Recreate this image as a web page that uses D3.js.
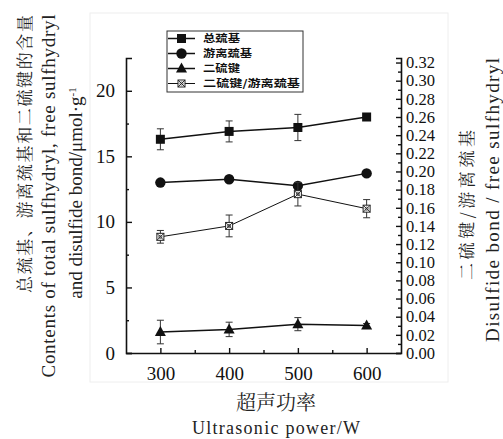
<!DOCTYPE html>
<html>
<head>
<meta charset="utf-8">
<script src="https://cdn.jsdelivr.net/npm/d3@7/dist/d3.min.js"></script>
<style>
  body { margin: 0; background: #fff; }
  svg { display: block; }
  .serif { font-family: "Liberation Serif"; }
  .song { font-family: "Noto Serif CJK SC", "Noto Sans CJK SC"; }
  .hei { font-family: "Noto Sans CJK SC"; }
</style>
</head>
<body>
<div id="container"></div>
<script>
let w = 503;
let h = 439;

// data
let powers = [300, 400, 500, 600];
let totalSH = [16.3, 16.9, 17.2, 18.0];
let totalErr = [0.8, 0.8, 1.0, 0.15];
let freeSH = [13.0, 13.25, 12.75, 13.7];
let freeErr = [0.15, 0.15, 0.15, 0.15];
let disulfide = [1.6, 1.8, 2.2, 2.1];
let disulfideErr = [0.9, 0.55, 0.5, 0.15];
let ratio = [0.128, 0.140, 0.175, 0.159];
let ratioErr = [0.007, 0.012, 0.013, 0.010];

let leftTicks = [0, 5, 10, 15, 20];
let rightTicks = d3.range(0, 0.3201, 0.02);
let legendNames = ["总巯基", "游离巯基", "二硫键", "二硫键/游离巯基"];
let legendWidths = [37, 49, 37, 97];

let plotLeft = 126, plotRight = 401, plotTop = 58, plotBottom = 353;

let viz = d3.select("#container")
  .append("svg")
  .attr("width", w)
  .attr("height", h)
  .style("background-color", "white");

// faint scan frame
viz.append("rect")
  .attr("x", 90).attr("y", 13)
  .attr("width", 358).attr("height", 369)
  .attr("fill", "none")
  .attr("stroke", "#eeeeee");

let x = d3.scaleLinear().domain([250, 650]).range([plotLeft, plotRight]);
let yL = d3.scaleLinear().domain([0, 22.5]).range([plotBottom, plotTop]);
let yR = d3.scaleLinear().domain([0, 0.325]).range([plotBottom, plotTop]);

// axes
viz.append("g")
  .attr("class", "xaxis")
  .attr("transform", `translate(0, ${plotBottom})`)
  .call(d3.axisBottom(x).tickValues(powers).tickSize(-5).tickSizeOuter(0).tickPadding(14));
viz.append("g")
  .attr("transform", `translate(0, ${plotBottom})`)
  .call(d3.axisBottom(x).tickValues([350, 450, 550]).tickSize(-3).tickFormat(""))
  .call(g => g.select(".domain").remove());

viz.append("g")
  .attr("class", "yaxis")
  .attr("transform", `translate(${plotLeft}, 0)`)
  .call(d3.axisLeft(yL).tickValues(leftTicks).tickSize(-6).tickSizeOuter(-6).tickPadding(11));
viz.append("g")
  .attr("transform", `translate(${plotLeft}, 0)`)
  .call(d3.axisLeft(yL).tickValues([2.5, 7.5, 12.5, 17.5]).tickSize(-3).tickFormat(""))
  .call(g => g.select(".domain").remove());

viz.append("g")
  .attr("class", "yaxis right")
  .attr("transform", `translate(${plotRight}, 0)`)
  .call(d3.axisRight(yR).tickValues(rightTicks).tickSize(-5).tickSizeOuter(-5).tickPadding(5)
    .tickFormat(d3.format(".2f")));
viz.append("g")
  .attr("transform", `translate(${plotRight}, 0)`)
  .call(d3.axisRight(yR).tickValues(d3.range(0.01, 0.32, 0.02)).tickSize(-3).tickFormat(""))
  .call(g => g.select(".domain").remove());

viz.selectAll("g").attr("font-family", null);
viz.selectAll(".domain").attr("stroke", "#111").attr("stroke-width", 1.6);
viz.selectAll(".tick line").attr("stroke", "#111").attr("stroke-width", 1.4);
viz.selectAll(".tick text")
  .attr("class", "serif")
  .style("font-size", "19px")
  .attr("fill", "#111");
viz.selectAll(".right .tick text").style("font-size", "16.5px");

// series
let series = [
  { vals: totalSH, err: totalErr, y: yL, shape: "square", lw: 1.5 },
  { vals: freeSH, err: freeErr, y: yL, shape: "circle", lw: 1.5 },
  { vals: disulfide, err: disulfideErr, y: yL, shape: "triangle", lw: 1.5 },
  { vals: ratio, err: ratioErr, y: yR, shape: "crossed", lw: 1 }
];

function drawMarker(g, shape, cx, cy) {
  if (shape === "square") {
    g.append("rect").attr("x", cx - 4.5).attr("y", cy - 4.5).attr("width", 9).attr("height", 9).attr("fill", "#111");
  } else if (shape === "circle") {
    g.append("circle").attr("cx", cx).attr("cy", cy).attr("r", 5.2).attr("fill", "#111");
  } else if (shape === "triangle") {
    g.append("path").attr("d", `M${cx},${cy - 6}L${cx + 5.5},${cy + 4}L${cx - 5.5},${cy + 4}Z`).attr("fill", "#111");
  } else {
    let s = 3.5;
    g.append("rect").attr("x", cx - s).attr("y", cy - s).attr("width", 2 * s).attr("height", 2 * s)
      .attr("fill", "white").attr("stroke", "#222").attr("stroke-width", 1);
    g.append("path").attr("d", `M${cx - s},${cy - s}L${cx + s},${cy + s}M${cx + s},${cy - s}L${cx - s},${cy + s}`)
      .attr("stroke", "#222").attr("stroke-width", 0.9);
    g.append("circle").attr("cx", cx).attr("cy", cy).attr("r", 1.6).attr("fill", "none").attr("stroke", "#222").attr("stroke-width", 0.7);
  }
}

series.forEach(s => {
  let pts = powers.map((p, i) => [x(p), s.y(s.vals[i])]);
  viz.append("path")
    .attr("d", d3.line()(pts))
    .attr("fill", "none")
    .attr("stroke", "#111")
    .attr("stroke-width", s.lw);
});

series.forEach(s => {
  let g = viz.append("g");
  powers.forEach((p, i) => {
    let cx = x(p);
    let y1 = s.y(s.vals[i] + s.err[i]);
    let y2 = s.y(s.vals[i] - s.err[i]);
    g.append("path")
      .attr("d", `M${cx},${y1}V${y2}M${cx - 3.5},${y1}H${cx + 3.5}M${cx - 3.5},${y2}H${cx + 3.5}`)
      .attr("stroke", "#333")
      .attr("stroke-width", 1)
      .attr("fill", "none");
    drawMarker(g, s.shape, cx, s.y(s.vals[i]));
  });
});

// legend
let legend = viz.append("g");
legend.append("rect")
  .attr("x", 167).attr("y", 31).attr("width", 136).attr("height", 61)
  .attr("fill", "white").attr("stroke", "#333").attr("stroke-width", 1);
let rowY = [38.5, 53.5, 68.5, 83.5];
legendNames.forEach((name, i) => {
  legend.append("line")
    .attr("x1", 168).attr("x2", 195).attr("y1", rowY[i]).attr("y2", rowY[i])
    .attr("stroke", "#111").attr("stroke-width", series[i].lw);
  drawMarker(legend, series[i].shape, 181.5, rowY[i]);
  legend.append("text")
    .text(name)
    .attr("class", "hei")
    .attr("x", 203).attr("y", rowY[i])
    .attr("dy", "0.38em")
    .style("font-weight", 700)
    .style("font-size", "10.2px")
    .attr("textLength", legendWidths[i])
    .attr("lengthAdjust", "spacingAndGlyphs")
    .attr("fill", "#111");
});

// axis titles
function vText(txt, cx, cy, cls, size, len) {
  let t = viz.append("text")
    .attr("class", cls)
    .attr("transform", `translate(${cx}, ${cy}) rotate(-90)`)
    .attr("text-anchor", "middle")
    .attr("dy", "0.35em")
    .style("font-size", size + "px")
    .attr("fill", "#222")
    .text(txt);
  if (len) t.attr("textLength", len).attr("lengthAdjust", "spacing");
  return t;
}

vText("总巯基、游离巯基和二硫键的含量", 25, 154, "song", 17, 278);
vText("Contents of total sulfhydryl,  free sulfhydryl", 48, 196, "serif", 19, 363);
let l3 = vText("", 75, 193, "serif", 19, null);
l3.append("tspan").text("and disulfide bond/μmol·g");
l3.append("tspan").text("-1").style("font-size", "11px").attr("baseline-shift", "super");

vText("二硫键/游离巯基", 467, 205, "song", 17, 150);
vText("Disulfide bond / free sulfhydryl", 492, 200, "serif", 19, 284);

viz.append("text")
  .attr("class", "song")
  .attr("x", 276).attr("y", 403).attr("dy", "0.35em")
  .attr("text-anchor", "middle")
  .style("font-size", "20px").attr("fill", "#222")
  .text("超声功率");
viz.append("text")
  .attr("class", "serif")
  .attr("x", 276).attr("y", 434)
  .attr("text-anchor", "middle")
  .style("font-size", "18px").attr("fill", "#222")
  .attr("textLength", 168).attr("lengthAdjust", "spacing")
  .text("Ultrasonic power/W");
</script>
</body>
</html>
